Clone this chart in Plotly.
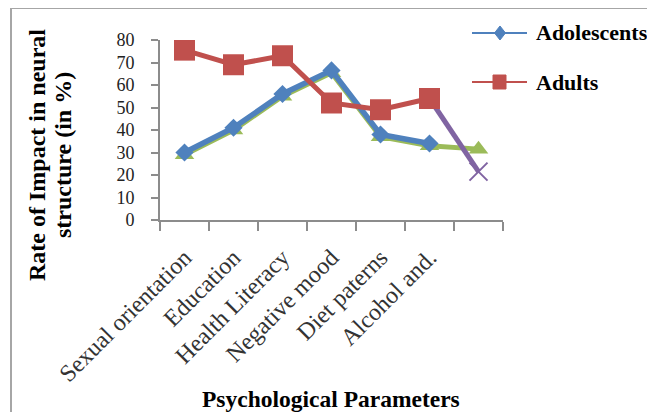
import plotly.graph_objects as go

categories = ["Sexual orientation", "Education", "Health Literacy", "Negative mood",
              "Diet paterns", "Alcohol and.", ""]
adolescents = [30, 41, 56, 66.5, 38, 34, None]
adults = [75.5, 69, 73, 52, 49, 54, None]
series3 = [29, 40, 55, 65.5, 37, 33, 31.5]
series4 = [None, None, None, None, None, 54, 21.5]
y_ticks = [0, 10, 20, 30, 40, 50, 60, 70, 80]
legend_names = ["Adolescents", "Adults"]

BLUE = "#4F81BD"
RED = "#C0504D"
GREEN = "#9BBB59"
PURPLE = "#8064A2"
SERIF = "Times New Roman, Liberation Serif, serif"

# page body has an 8px margin: plot area wanted at x 160..503, y 40..220 (screen px)
OFF = 8
PL, PR, PT, PB = 160, 503, 40, 220
W, H = 655, 412

def px_x(p):
    return (p - PL) / (PR - PL)

def px_y(p):
    return (PB - p) / (PB - PT)

x = list(range(len(categories)))

fig = go.Figure()
fig.add_trace(go.Scatter(x=x, y=series3, mode="lines+markers", showlegend=False,
                         line=dict(color=GREEN, width=5),
                         marker=dict(symbol="triangle-up", size=17, color=GREEN)))
fig.add_trace(go.Scatter(x=x, y=series4, mode="lines+markers", showlegend=False,
                         line=dict(color=PURPLE, width=5),
                         marker=dict(symbol="x-thin-open", size=18,
                                     line=dict(color=PURPLE, width=2))))
fig.add_trace(go.Scatter(x=x, y=adolescents, mode="lines+markers", name=legend_names[0],
                         showlegend=False,
                         line=dict(color=BLUE, width=5.5),
                         marker=dict(symbol="diamond", size=14, color=BLUE)))
fig.add_trace(go.Scatter(x=x, y=adults, mode="lines+markers", name=legend_names[1],
                         showlegend=False,
                         line=dict(color=RED, width=5),
                         marker=dict(symbol="square", size=21, color=RED)))

fig.update_layout(
    width=W, height=H,
    margin=dict(l=PL - OFF, r=W - PR + OFF, t=PT - OFF, b=H - PB + OFF),
    paper_bgcolor="white", plot_bgcolor="white",
    font=dict(family=SERIF, color="#222"),
    showlegend=False,
    xaxis=dict(range=[-0.5, 6.5], tickmode="array", tickvals=x, ticktext=categories,
               tickangle=-45, ticks="", showgrid=False, zeroline=False,
               showline=True, linecolor="#8c8c8c", linewidth=2,
               tickfont=dict(family=SERIF, size=24, color="#333"),
               ticklabelstandoff=12,
               minor=dict(tickmode="array", tickvals=[i - 0.5 for i in range(len(categories) + 1)],
                          ticks="outside", ticklen=9, tickwidth=2, tickcolor="#8c8c8c",
                          showgrid=False)),
    yaxis=dict(range=[0, 80], tickmode="array", tickvals=y_ticks,
               ticks="outside", ticklen=7, tickwidth=2, tickcolor="#8c8c8c",
               showgrid=False, zeroline=False, showline=True, linecolor="#8c8c8c", linewidth=2,
               tickfont=dict(family=SERIF, size=18, color="#222"),
               ticklabelstandoff=13),
)

# ---- legend drawn by hand (line + marker shape + label) ----
legend_rows = [(33, BLUE, "diamond"), (82, RED, "square")]
for name, (ly, col, sym) in zip(legend_names, legend_rows):
    fig.add_shape(type="line", xref="paper", yref="paper",
                  x0=px_x(472), x1=px_x(527), y0=px_y(ly), y1=px_y(ly),
                  line=dict(color=col, width=2))
    if sym == "diamond":
        cx, hw, hh = 500, 5.5, 7
        path = "M {:.5f},{:.5f} L {:.5f},{:.5f} L {:.5f},{:.5f} L {:.5f},{:.5f} Z".format(
            px_x(cx), px_y(ly - hh), px_x(cx + hw), px_y(ly),
            px_x(cx), px_y(ly + hh), px_x(cx - hw), px_y(ly))
        fig.add_shape(type="path", xref="paper", yref="paper", path=path,
                      fillcolor=col, line=dict(color=col, width=1))
    else:
        fig.add_shape(type="rect", xref="paper", yref="paper",
                      x0=px_x(493), x1=px_x(506), y0=px_y(ly + 7), y1=px_y(ly - 7),
                      fillcolor=col, line=dict(color=col, width=1))
    fig.add_annotation(text=name, xref="paper", yref="paper",
                       x=px_x(534), y=px_y(ly), xanchor="left", yanchor="middle",
                       showarrow=False,
                       font=dict(family=SERIF, size=22, color="black", weight="bold"))

fig.add_annotation(text="Rate of Impact in neural", xref="paper", yref="paper",
                   x=px_x(37), y=px_y(155), xanchor="center", yanchor="middle",
                   textangle=-90, showarrow=False,
                   font=dict(family=SERIF, size=24, color="black", weight="bold"))
fig.add_annotation(text="structure (in %)", xref="paper", yref="paper",
                   x=px_x(63), y=px_y(155), xanchor="center", yanchor="middle",
                   textangle=-90, showarrow=False,
                   font=dict(family=SERIF, size=24, color="black", weight="bold"))
fig.add_annotation(text="Psychological Parameters", xref="paper", yref="paper",
                   x=px_x(331), y=px_y(399), xanchor="center", yanchor="middle",
                   showarrow=False,
                   font=dict(family=SERIF, size=23.5, color="black", weight="bold"))
# outer chart frame
fig.add_shape(type="rect", xref="paper", yref="paper",
              x0=px_x(11), x1=px_x(720), y0=px_y(450), y1=px_y(8),
              line=dict(color="#a6a6a6", width=2), fillcolor="rgba(0,0,0,0)", layer="below")

fig.write_html("out.html")
